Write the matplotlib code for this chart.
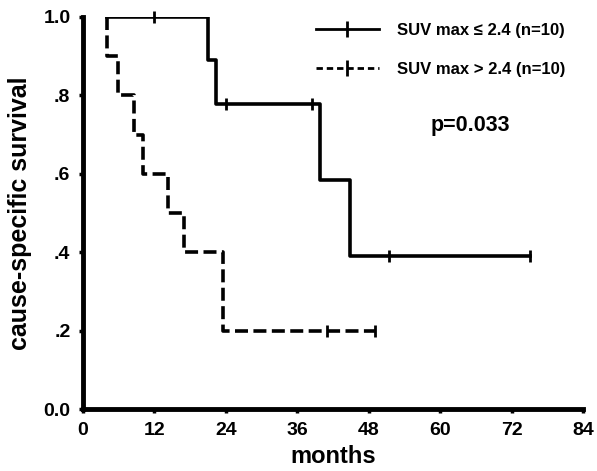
import numpy as np
import matplotlib
matplotlib.use("Agg")
import matplotlib.pyplot as plt
from matplotlib.lines import Line2D

# Kaplan-Meier curves (months, survival)
low_times = [4, 21, 22.4, 39.8, 44.8, 75]
low_surv = [1.0, 0.889, 0.778, 0.583, 0.389, 0.389]
low_cens_t = [12, 24, 38.5, 51.4, 75]
low_cens_s = [1.0, 0.778, 0.778, 0.389, 0.389]

high_times = [4, 4, 5.8, 8.6, 10, 14.3, 16.9, 23.5, 49]
high_surv = [1.0, 0.9, 0.8, 0.7, 0.6, 0.5, 0.4, 0.2, 0.2]
high_cens_t = [41, 49]
high_cens_s = [0.2, 0.2]

labels = ["SUV max \u2264 2.4 (n=10)", "SUV max > 2.4 (n=10)"]
p_text = "p=0.033"
xticks = [0, 12, 24, 36, 48, 60, 72, 84]
yticks = [0.0, 0.2, 0.4, 0.6, 0.8, 1.0]
yticklabels = ["0.0", ".2", ".4", ".6", ".8", "1.0"]

plt.rcParams['font.family'] = ['Liberation Sans', 'DejaVu Sans']
plt.rcParams['font.weight'] = 'bold'

fig = plt.figure(figsize=(5.97, 4.71), dpi=100)
ax = fig.add_axes([0.139, 0.1316, 0.838, 0.8326])

lw = 2.6
dash = (3.6, 1.5)

ax.step(low_times, low_surv, where='post', color='black', lw=lw)
ax.plot(low_cens_t, low_cens_s, ls='none', marker='|', ms=9, mew=2, color='black', clip_on=False)

ax.step(high_times, high_surv, where='post', color='black', lw=lw, dashes=dash)
ax.plot(high_cens_t, high_cens_s, ls='none', marker='|', ms=9, mew=2, color='black', clip_on=False)

# legend
handles = [
    Line2D([], [], color='black', lw=2, marker='|', ms=11, mew=2),
    Line2D([], [], color='black', lw=2, marker='|', ms=11, mew=2, dashes=(2.3, 1.4)),
]
ax.legend(handles, labels, loc='upper left', bbox_to_anchor=(0.465, 0.985),
          frameon=False, borderaxespad=0, borderpad=0, handlelength=3.8,
          handletextpad=1.1, labelspacing=1.45, prop={'size': 12, 'weight': 'bold'})

ax.text(0.775, 0.724, p_text, transform=ax.transAxes, fontsize=15.5, fontweight='bold',
        ha='center', va='center')

ax.set_xlim(0, 84)
ax.set_ylim(0, 1.0)
ax.set_xticks(xticks)
ax.set_xticklabels([str(t) for t in xticks])
ax.set_yticks(yticks)
ax.set_yticklabels(yticklabels)

for s in ['top', 'right']:
    ax.spines[s].set_visible(False)
for s in ['left', 'bottom']:
    ax.spines[s].set_linewidth(3.5)

ax.tick_params(axis='both', direction='out', length=3, width=2.5, labelsize=14, pad=6)
for lab in ax.get_xticklabels() + ax.get_yticklabels():
    lab.set_fontweight('bold')

ax.set_xlabel("months", fontsize=17, fontweight='bold', labelpad=5)
ax.set_ylabel("cause-specific survival", fontsize=18, fontweight='bold', labelpad=8)

fig.savefig("out.png", dpi=100)
